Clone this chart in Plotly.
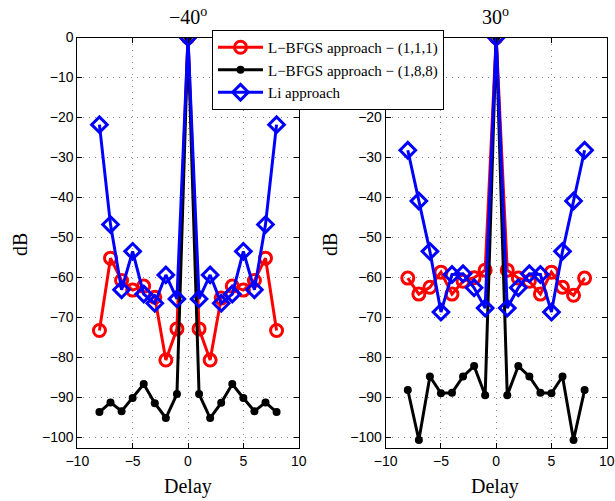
import plotly.graph_objects as go

delay = [-8, -7, -6, -5, -4, -3, -2, -1, 0, 1, 2, 3, 4, 5, 6, 7, 8]

# Left panel (-40 deg)
l_red = [-73.3, -55.2, -60.8, -63.2, -62.2, -65.0, -80.7, -72.9, 0,
         -72.9, -80.7, -65.2, -62.2, -63.2, -60.8, -55.2, -73.3]
l_black = [-93.7, -91.3, -93.5, -90.2, -86.7, -91.5, -95.2, -89.2, 0,
           -89.2, -95.2, -91.4, -86.7, -90.2, -93.5, -91.3, -93.7]
l_blue = [-21.8, -46.8, -63.1, -53.5, -64.2, -66.5, -59.4, -65.4, 0,
          -65.4, -59.4, -66.5, -64.2, -53.5, -63.1, -46.8, -21.8]

# Right panel (30 deg)
r_red = [-60.2, -64.2, -62.5, -58.7, -64.2, -61.0, -60.1, -58.2, 0,
         -58.2, -60.2, -61.0, -64.2, -58.7, -62.5, -64.5, -60.2]
r_black = [-88.2, -100.7, -84.8, -89.0, -88.9, -84.8, -82.2, -89.5, 0,
           -89.5, -82.2, -84.8, -88.9, -89.0, -84.8, -100.7, -88.2]
r_blue = [-28.2, -40.9, -53.5, -68.7, -59.3, -59.1, -62.6, -67.7, 0,
          -67.7, -62.6, -59.1, -59.3, -68.7, -53.5, -40.9, -28.2]

series_names = ["L\u2212BFGS approach \u2212 (1,1,1)",
                "L\u2212BFGS approach \u2212 (1,8,8)",
                "Li approach"]
panel_titles = ["\u221240<sup>o</sup>", "30<sup>o</sup>"]

x_ticks = [-10, -5, 0, 5, 10]
x_ticktext = ["\u221210", "\u22125", "0", "5", "10"]
y_ticks = [0, -10, -20, -30, -40, -50, -60, -70, -80, -90, -100]
y_ticktext = ["0", "\u221210", "\u221220", "\u221230", "\u221240", "\u221250",
              "\u221260", "\u221270", "\u221280", "\u221290", "\u2212100"]

W, H = 615, 501
fig = go.Figure()

styles = [
    dict(color="#ff0000", symbol="circle-open", size=12, lw=3),
    dict(color="#000000", symbol="circle", size=8, lw=0),
    dict(color="#0000ff", symbol="diamond-open", size=12, lw=3),
]

panels = [((l_red, l_black, l_blue), "x", "y"), ((r_red, r_black, r_blue), "x2", "y2")]
for pi, (data, xa, ya) in enumerate(panels):
    for si, ys in enumerate(data):
        s = styles[si]
        fig.add_trace(go.Scatter(
            x=delay, y=ys, mode="lines+markers", name=series_names[si],
            xaxis=xa, yaxis=ya, showlegend=(pi == 0),
            line=dict(color=s["color"], width=3),
            marker=dict(symbol=s["symbol"], size=s["size"], color=s["color"],
                        line=dict(color=s["color"], width=s["lw"])),
        ))

def xd(a, b):
    return [a / W, b / W]

ytop, ybot = 37.5, 448.0
ydom = [1 - ybot / H, 1 - ytop / H]

axis_common = dict(
    showline=True, linecolor="black", linewidth=1, mirror="ticks",
    ticks="inside", ticklen=5, tickcolor="black",
    showgrid=True, gridcolor="#8a8a8a", griddash="1px,5px", gridwidth=1,
    zeroline=False, automargin=False,
    tickfont=dict(family="Liberation Sans", size=14, color="black"),
)

fig.update_layout(
    width=W, height=H,
    margin=dict(l=0, r=0, t=0, b=0),
    paper_bgcolor="white", plot_bgcolor="white",
    xaxis=dict(domain=xd(77.3, 298.7), range=[-10, 10], tickvals=x_ticks,
               ticktext=x_ticktext, anchor="y", **axis_common),
    yaxis=dict(domain=ydom, range=[-102.7, 0], tickvals=y_ticks,
               ticktext=y_ticktext, anchor="x", **axis_common),
    xaxis2=dict(domain=xd(385.7, 606.7), range=[-10, 10], tickvals=x_ticks,
                ticktext=x_ticktext, anchor="y2", **axis_common),
    yaxis2=dict(domain=ydom, range=[-102.7, 0], tickvals=y_ticks,
                ticktext=y_ticktext, anchor="x2", **axis_common),
    legend=dict(x=212 / W, y=1 - 30 / H, xanchor="left", yanchor="top",
                bgcolor="white", bordercolor="black", borderwidth=1,
                font=dict(family="Liberation Serif", size=15, color="black"),
                itemwidth=45, tracegroupgap=0),
    showlegend=True,
)

serif = dict(family="Liberation Serif", size=20, color="black")
ann = []
for cx, t in [(188, panel_titles[0]), (495.3, panel_titles[1])]:
    ann.append(dict(x=cx / W, y=1 - 30 / H, xref="paper", yref="paper",
                    text=t, showarrow=False, xanchor="center", yanchor="bottom",
                    font=serif))
    ann.append(dict(x=cx / W, y=1 - 500 / H, xref="paper", yref="paper",
                    text="Delay", showarrow=False, xanchor="center", yanchor="bottom",
                    font=serif))
for lx in [20, 330]:
    ann.append(dict(x=lx / W, y=1 - 245 / H, xref="paper", yref="paper",
                    text="dB", showarrow=False, textangle=-90,
                    xanchor="center", yanchor="middle", font=serif))
fig.update_layout(annotations=ann)

fig.write_html("out.html", config={"displayModeBar": False},
               post_script="document.body.style.margin='0';document.body.style.overflow='hidden';")
